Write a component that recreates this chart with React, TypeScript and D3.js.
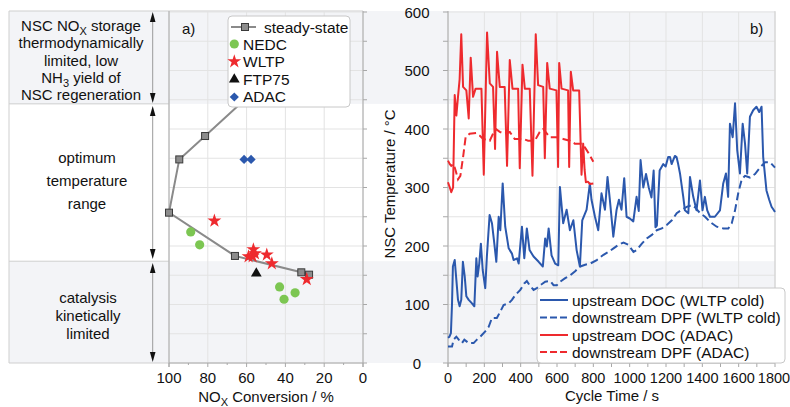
import React from 'react';
import * as d3 from 'd3';

// ---------- data ----------
const convTicks = [100, 80, 60, 40, 20, 0];
const convMinor = [90, 70, 50, 30, 10];
const timeTicks = [0, 200, 400, 600, 800, 1000, 1200, 1400, 1600, 1800];
const tempTicks = [0, 100, 200, 300, 400, 500, 600];

const steadyConv = [61, 81.4, 94.7, 100, 66, 31.8, 27.8];
const steadyTemp = [450, 388, 348, 257, 183, 155, 151];
const nedcConv = [88.8, 84.2, 43, 35, 40.7];
const nedcTemp = [224, 202, 130, 120, 109];
const wltpConv = [76.6, 56.5, 59, 56.9, 55.7, 49.6, 47, 29];
const wltpTemp = [243, 194, 182, 182, 187, 185, 170, 143];
const ftpConv = [55];
const ftpTemp = [153];
const adacConv = [61.3, 57.7];
const adacTemp = [348, 348];

const bandLow = 174;
const bandHigh = 443;

const wltpUp: [number, number][] = [
  [0, 43], [8, 45], [16, 51], [22, 100], [27, 165], [37, 176], [46, 142], [55, 108], [64, 97], [73, 108],
  [82, 173], [92, 148], [101, 114], [114, 108], [132, 102], [145, 97], [156, 179], [163, 148], [172, 170],
  [181, 204], [191, 159], [205, 128], [214, 182], [229, 253], [242, 239], [255, 204], [266, 173], [279, 250],
  [288, 227], [301, 307], [315, 233], [334, 196], [352, 187], [361, 176], [380, 179], [389, 170], [407, 233],
  [420, 179], [434, 230], [449, 193], [471, 182], [499, 173], [522, 165], [535, 213], [544, 199], [554, 230],
  [570, 184], [590, 170], [607, 167], [616, 301], [634, 239], [653, 262], [671, 227], [690, 244], [708, 193],
  [726, 165], [739, 244], [763, 262], [781, 307], [790, 279], [809, 250], [827, 227], [845, 290], [864, 262],
  [878, 318], [891, 279], [910, 216], [928, 262], [941, 279], [955, 262], [970, 316], [983, 250], [1001, 247],
  [1020, 242], [1038, 284], [1050, 260], [1060, 347], [1075, 300], [1090, 323], [1105, 300], [1120, 283],
  [1132, 329], [1142, 232], [1150, 235], [1165, 329], [1185, 340], [1198, 336], [1212, 352], [1222, 352],
  [1231, 340], [1249, 354], [1258, 352], [1267, 340], [1277, 324], [1295, 284], [1304, 261], [1323, 256],
  [1332, 318], [1350, 284], [1368, 261], [1387, 312], [1401, 261], [1414, 284], [1427, 261], [1442, 250],
  [1469, 250], [1497, 261], [1515, 307], [1530, 324], [1542, 284], [1552, 409], [1567, 386], [1580, 444],
  [1592, 364], [1607, 324], [1622, 409], [1635, 375], [1647, 324], [1662, 421], [1680, 432], [1698, 438],
  [1713, 429], [1726, 438], [1735, 352], [1753, 295], [1768, 279], [1781, 267], [1794, 261], [1800, 258],
];

const wltpDown: [number, number][] = [
  [0, 28], [22, 28], [31, 40], [46, 45], [59, 40], [77, 34], [90, 40], [114, 34], [141, 34], [159, 40],
  [178, 45], [205, 54], [224, 62], [242, 77], [269, 77], [288, 88], [306, 99], [334, 102], [352, 108],
  [370, 116], [398, 125], [420, 136], [434, 140], [449, 133], [471, 125], [489, 128], [508, 133], [535, 139],
  [563, 140], [581, 133], [599, 133], [618, 139], [645, 145], [673, 150], [700, 157], [728, 165], [755, 168],
  [783, 170], [819, 176], [856, 185], [884, 190], [911, 196], [938, 202], [966, 206], [993, 202], [1021, 190],
  [1039, 193], [1067, 204], [1094, 213], [1122, 219], [1149, 227], [1177, 230], [1204, 236], [1232, 244],
  [1259, 256], [1287, 262], [1314, 267], [1342, 270], [1360, 266], [1388, 256], [1415, 250], [1443, 241],
  [1479, 233], [1516, 230], [1543, 230], [1562, 239], [1580, 261], [1598, 291], [1617, 314], [1635, 320],
  [1662, 317], [1690, 323], [1717, 334], [1745, 343], [1773, 343], [1800, 334],
];

const adacUp: [number, number][] = [
  [0, 309], [10, 300], [18, 292], [28, 300], [37, 458], [46, 423], [55, 455], [64, 485], [73, 562], [83, 472],
  [101, 466], [114, 418], [125, 522], [138, 455], [152, 469], [184, 469], [197, 322], [215, 565], [230, 478],
  [248, 472], [259, 366], [270, 532], [285, 472], [312, 472], [325, 337], [340, 518], [355, 469], [386, 469],
  [395, 333], [410, 510], [423, 469], [450, 469], [465, 320], [483, 562], [496, 475], [524, 472], [533, 350],
  [546, 513], [560, 469], [597, 466], [606, 335], [612, 513], [625, 469], [661, 466], [667, 335], [676, 498],
  [689, 466], [722, 466], [735, 322], [744, 375], [752, 330], [759, 309], [770, 310], [781, 306], [800, 307],
];

const adacDown: [number, number][] = [
  [0, 346], [10, 340], [18, 337], [31, 340], [42, 329], [55, 314], [68, 320], [83, 352], [97, 386], [119, 392],
  [156, 393], [174, 389], [193, 383], [230, 380], [252, 395], [263, 400], [285, 395], [312, 392], [340, 395],
  [367, 383], [413, 383], [441, 380], [478, 380], [505, 395], [524, 400], [560, 386], [597, 386], [634, 383],
  [670, 380], [698, 375], [735, 375], [750, 370], [759, 366], [775, 358], [800, 344],
];

// ---------- layout ----------
const W = 790;
const H = 407;
const FONT = "'Liberation Sans', Arial, Helvetica, sans-serif";
const BLUE = '#2b58ad';
const RED = '#ee2a2e';
const GREEN = '#7cc652';
const BAND = '#f3f4f7';
const GRID = '#e3e3e3';
const AXIS = '#a8a8a8';

const yT = d3.scaleLinear().domain([0, 600]).range([363, 12]);
const xC = d3.scaleLinear().domain([100, 0]).range([169, 363]);
const xS = d3.scaleLinear().domain([0, 1800]).range([448, 775]);

const lineTime = d3
  .line<[number, number]>()
  .x((d) => xS(d[0]))
  .y((d) => yT(d[1]));

const steadyLine = d3
  .line<number>()
  .x((_, i) => xC(steadyConv[i]))
  .y((_, i) => yT(steadyTemp[i]));

const star = d3.symbol().type(d3.symbolStar).size(60)() as string;
const tri = d3.symbol().type(d3.symbolTriangle).size(50)() as string;
const diamond = 'M0,-4.6L4.6,0L0,4.6L-4.6,0Z';

function Arrow({ x, y1, y2 }: { x: number; y1: number; y2: number }) {
  return (
    <g>
      <line x1={x} x2={x} y1={y1 + 4} y2={y2 - 4} stroke="#9a9a9a" strokeWidth={1} />
      <path d={`M${x},${y1} L${x - 2.8},${y1 + 10} L${x + 2.8},${y1 + 10} Z`} fill="#111" />
      <path d={`M${x},${y2} L${x - 2.8},${y2 - 10} L${x + 2.8},${y2 - 10} Z`} fill="#111" />
    </g>
  );
}

export default function App() {
  const tempGrid = d3.range(0, 601, 50);
  const timeMinor = d3.range(0, 1801, 100);
  const yBandTop = yT(bandHigh);
  const yBandBot = yT(bandLow);
  return (
    <svg
      width={W}
      height={H}
      style={{ position: 'absolute', left: 0, top: 0, background: '#fff' }}
      fontFamily={FONT}
    >
      {/* bands */}
      <rect x={9} y={11} width={775 - 9} height={yBandTop - 11} fill={BAND} />
      <rect x={9} y={yBandBot} width={775 - 9} height={363 - yBandBot} fill={BAND} />

      {/* left annotation boxes */}
      <g stroke="#cfcfcf" strokeWidth={1}>
        <line x1={9} x2={169} y1={11} y2={11} />
        <line x1={9} x2={169} y1={yBandTop} y2={yBandTop} />
        <line x1={9} x2={169} y1={yBandBot} y2={yBandBot} />
        <line x1={9} x2={169} y1={363} y2={363} />
        <line x1={9} x2={9} y1={11} y2={363} />
        <line x1={169} x2={363} y1={11} y2={11} />
      </g>
      <Arrow x={152.7} y1={12} y2={103} />
      <Arrow x={152.7} y1={106} y2={259} />
      <Arrow x={152.7} y1={263} y2={362} />
      <g fontSize={15} textAnchor="middle" fill="#111">
        <text x={81} y={31}>
          NSC NO<tspan fontSize={11} dy={4}>X</tspan>
          <tspan dy={-4}> storage</tspan>
        </text>
        <text x={81} y={48}>thermodynamically</text>
        <text x={81} y={66}>limited, low</text>
        <text x={81} y={83}>
          NH<tspan fontSize={11} dy={4}>3</tspan>
          <tspan dy={-4}> yield of</tspan>
        </text>
        <text x={81} y={100}>NSC regeneration</text>
        <text x={87} y={163}>optimum</text>
        <text x={87} y={186}>temperature</text>
        <text x={87} y={209}>range</text>
        <text x={88} y={303}>catalysis</text>
        <text x={88} y={321}>kinetically</text>
        <text x={88} y={339}>limited</text>
      </g>

      {/* ---- left panel ---- */}
      <g stroke={GRID} strokeWidth={1}>
        {tempGrid.map((t) => (
          <line key={'lg' + t} x1={169} x2={363} y1={yT(t)} y2={yT(t)} />
        ))}
        {convTicks.map((c) => (
          <line key={'lv' + c} x1={xC(c)} x2={xC(c)} y1={12} y2={363} />
        ))}
      </g>
      <line x1={169} x2={169} y1={11} y2={367} stroke={AXIS} />
      <line x1={363} x2={363} y1={11} y2={367} stroke={AXIS} />
      <line x1={169} x2={363} y1={363} y2={363} stroke={AXIS} />
      <g stroke={AXIS}>
        {tempGrid.map((t) => (
          <line key={'lrt' + t} x1={363} x2={367} y1={yT(t)} y2={yT(t)} />
        ))}
        {convTicks.map((c) => (
          <line key={'lt' + c} x1={xC(c)} x2={xC(c)} y1={363} y2={367} />
        ))}
        {convMinor.map((c) => (
          <line key={'lm' + c} x1={xC(c)} x2={xC(c)} y1={363} y2={365} />
        ))}
      </g>
      <g fontSize={15} textAnchor="middle" fill="#111">
        {convTicks.map((c) => (
          <text key={'lx' + c} x={xC(c)} y={383}>
            {c}
          </text>
        ))}
        <text x={266} y={402}>
          NO<tspan fontSize={11} dy={4}>X</tspan>
          <tspan dy={-4}> Conversion / %</tspan>
        </text>
      </g>
      <text x={182} y={34} fontSize={15} fill="#111">a)</text>

      {/* steady state */}
      <path d={steadyLine(steadyConv) as string} fill="none" stroke="#8a8a8a" strokeWidth={2} />
      {steadyConv.map((c, i) => (
        <rect
          key={'sq' + i}
          x={xC(c) - 3.5}
          y={yT(steadyTemp[i]) - 3.5}
          width={7}
          height={7}
          fill="#8c8c8c"
          stroke="#3a3a3a"
          strokeWidth={1}
        />
      ))}
      {nedcConv.map((c, i) => (
        <circle key={'n' + i} cx={xC(c)} cy={yT(nedcTemp[i])} r={4.6} fill={GREEN} />
      ))}
      {wltpConv.map((c, i) => (
        <path key={'w' + i} d={star} transform={`translate(${xC(c)},${yT(wltpTemp[i])})`} fill={RED} />
      ))}
      {ftpConv.map((c, i) => (
        <path key={'f' + i} d={tri} transform={`translate(${xC(c)},${yT(ftpTemp[i])})`} fill="#111" />
      ))}
      {adacConv.map((c, i) => (
        <path key={'a' + i} d={diamond} transform={`translate(${xC(c)},${yT(adacTemp[i])})`} fill={BLUE} />
      ))}

      {/* left legend */}
      <rect x={228} y={16} width={122} height={91} rx={4} fill="#fff" stroke="#c8c8c8" />
      <g fontSize={15.5} fill="#111">
        <line x1={231} x2={256} y1={27} y2={27} stroke="#8a8a8a" strokeWidth={2} />
        <rect x={241.5} y={23.5} width={7} height={7} fill="#8c8c8c" stroke="#3a3a3a" />
        <text x={264} y={32.5}>steady-state</text>
        <circle cx={234.3} cy={44} r={4.6} fill={GREEN} />
        <text x={243} y={49.5}>NEDC</text>
        <path d={star} transform="translate(234.3,61.5)" fill={RED} />
        <text x={243} y={67}>WLTP</text>
        <path d={tri} transform="translate(234.3,79.5)" fill="#111" />
        <text x={243} y={84.5}>FTP75</text>
        <path d={diamond} transform="translate(234.3,97)" fill={BLUE} />
        <text x={243} y={102}>ADAC</text>
      </g>

      {/* ---- right panel ---- */}
      <g stroke={GRID} strokeWidth={1}>
        {tempGrid.map((t) => (
          <line key={'rg' + t} x1={448} x2={775} y1={yT(t)} y2={yT(t)} />
        ))}
        {timeTicks.map((t) => (
          <line key={'rv' + t} x1={xS(t)} x2={xS(t)} y1={12} y2={363} />
        ))}
      </g>
      <line x1={448} x2={448} y1={11} y2={367} stroke={AXIS} />
      <line x1={775} x2={775} y1={11} y2={363} stroke="#d0d0d0" />
      <line x1={448} x2={775} y1={363} y2={363} stroke={AXIS} />
      <g stroke={AXIS}>
        {tempGrid.map((t) => (
          <line key={'rt' + t} x1={443} x2={448} y1={yT(t)} y2={yT(t)} />
        ))}
        {timeMinor.map((t) => (
          <line key={'rtm' + t} x1={xS(t)} x2={xS(t)} y1={363} y2={367} />
        ))}
      </g>
      <g fontSize={15} fill="#111" textAnchor="middle">
        {tempTicks.map((t) => (
          <text key={'ry' + t} x={417} y={yT(t) + 5.5}>
            {t}
          </text>
        ))}
        <text x={612} y={401}>Cycle Time / s</text>
        <text transform="translate(395,184) rotate(-90)">NSC Temperature / °C</text>
      </g>
      <g fontSize={14.5} fill="#111" textAnchor="middle">
        {timeTicks.map((t) => (
          <text key={'rx' + t} x={Math.min(xS(t), 774)} y={383}>
            {t}
          </text>
        ))}
      </g>
      <text x={750} y={34} fontSize={15} fill="#111">b)</text>

      <path d={lineTime(wltpDown) as string} fill="none" stroke={BLUE} strokeWidth={2} strokeDasharray="8,4" />
      <path d={lineTime(wltpUp) as string} fill="none" stroke={BLUE} strokeWidth={2} strokeLinejoin="round" />
      <path d={lineTime(adacDown) as string} fill="none" stroke={RED} strokeWidth={2} strokeDasharray="8,4" />
      <path d={lineTime(adacUp) as string} fill="none" stroke={RED} strokeWidth={2} strokeLinejoin="round" />

      {/* right legend */}
      <rect x={537} y={288} width={248} height={75} rx={4} fill="#fff" stroke="#c8c8c8" />
      <g fontSize={15.5} fill="#111">
        <line x1={540} x2={568} y1={300} y2={300} stroke={BLUE} strokeWidth={2} />
        <text x={572} y={305.5}>upstream DOC (WLTP cold)</text>
        <line x1={540} x2={568} y1={317.5} y2={317.5} stroke={BLUE} strokeWidth={2} strokeDasharray="7,3" />
        <text x={572} y={323}>downstream DPF (WLTP cold)</text>
        <line x1={540} x2={568} y1={335} y2={335} stroke={RED} strokeWidth={2} />
        <text x={572} y={340.5}>upstream DOC (ADAC)</text>
        <line x1={540} x2={568} y1={352} y2={352} stroke={RED} strokeWidth={2} strokeDasharray="7,3" />
        <text x={572} y={357.5}>downstream DPF (ADAC)</text>
      </g>
    </svg>
  );
}
